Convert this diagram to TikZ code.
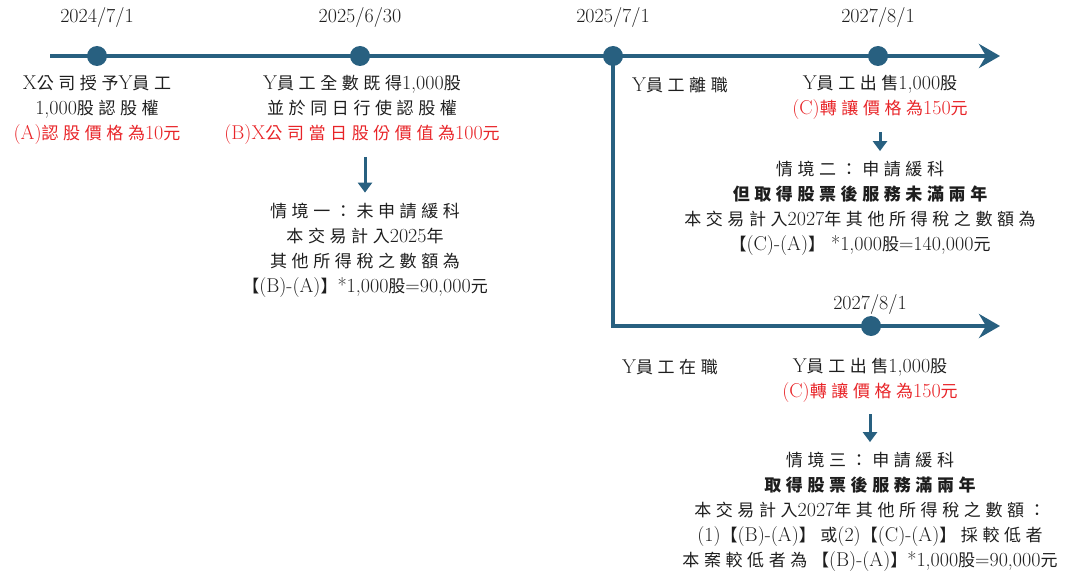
\documentclass[tikz,border=0pt]{standalone}
\usepackage{fontspec}
\usetikzlibrary{arrows.meta}
\newfontfamily\cjkf[LetterSpace=27, Scale=0.85]{Noto Sans CJK TC}
\newcommand\zh[1]{{\cjkf #1}}
\definecolor{tlblue}{RGB}{40,96,128}
\definecolor{tred}{RGB}{232,36,40}
\definecolor{ink}{RGB}{30,30,30}
\tikzset{
  tl/.style={line width=4pt, draw=tlblue},
  tlarrow/.style={tl, -{Stealth[length=21pt,width=24pt,inset=7pt]}},
  dot/.style={circle, fill=tlblue, minimum size=20pt, inner sep=0pt},
  txt/.style={align=center, text=ink, inner sep=2pt, font=\fontsize{20}{25}\selectfont},
  down/.style={line width=3pt, draw=tlblue, -{Triangle[length=10pt,width=14pt]}, shorten <=10pt, shorten >=8pt},
}
\begin{document}
\begin{tikzpicture}[x=1pt,y=-1pt]
\useasboundingbox (0,0) rectangle (1073,575);
% main timeline
\coordinate (s0) at (50,56);
\coordinate (e1) at (1000,56);
\draw[tlarrow] (s0) -- (e1);
\node[dot] (d1) at (97,56) {};
\node[dot] (d2) at (360,56) {};
\node[dot] (d4) at (878,56) {};
% branch
\coordinate (e2) at (1000,326);
\coordinate (br) at (613,56);
\draw[tlarrow] (br) |- (e2);
\node[dot] (d3) at (613,56) {};
\node[dot] (d5) at (871,326) {};
% dates
\node[txt] (t1) at (97,18) {2024/7/1};
\node[txt] (t2) at (360,18) {2025/6/30};
\node[txt] (t3) at (613,18) {2025/7/1};
\node[txt] (t4) at (878,18) {2027/8/1};
\node[txt] (t5) at (870,304) {2027/8/1};
% blocks
\node[txt] (b1) at (97,110) {X\zh{公司授予}Y\zh{員工}\\1,000\zh{股認股權}\\\color{tred}(A)\zh{認股價格為}10\zh{元}};
\node[txt] (b2) at (362,110) {Y\zh{員工全數既得}1,000\zh{股}\\\zh{並於同日行使認股權}\\\color{tred}(B)X\zh{公司當日股份價值為}100\zh{元}};
\node[txt] (s1) at (365,250) {\zh{情境一：未申請緩科}\\\zh{本交易計入}2025\zh{年}\\\zh{其他所得稅之數額為}\\\zh{【}(B)-(A)\zh{】}*1,000\zh{股}=90,000\zh{元}};
\node[txt] (leave) at (680,85) {Y\zh{員工離職}};
\node[txt] (sell1) at (880,97.5) {Y\zh{員工出售}1,000\zh{股}\\\color{tred}(C)\zh{轉讓價格為}150\zh{元}};
\node[txt] (s2) at (860,208.5) {\zh{情境二：申請緩科}\\{\cjkf\bfseries 但取得股票後服務未滿兩年}\\\zh{本交易計入}2027\zh{年其他所得稅之數額為}\\\zh{【}(C)-(A)\zh{】} *1,000\zh{股}=140,000\zh{元}};
\node[txt] (onjob) at (670,367) {Y\zh{員工在職}};
\node[txt] (sell2) at (870,380) {Y\zh{員工出售}1,000\zh{股}\\\color{tred}(C)\zh{轉讓價格為}150\zh{元}};
\node[txt] (s3) at (870,512) {\zh{情境三：申請緩科}\\{\cjkf\bfseries 取得股票後服務滿兩年}\\\zh{本交易計入}2027\zh{年其他所得稅之數額：}\\(1)\zh{【}(B)-(A)\zh{】或}(2)\zh{【}(C)-(A)\zh{】採較低者}\\\zh{本案較低者為【}(B)-(A)\zh{】}*1,000\zh{股}=90,000\zh{元}};
% small arrows
\draw[down] (s1.north |- b2.south) -- (s1.north);
\draw[down] (sell1.south) -- (sell1.south |- s2.north);
\draw[down] (sell2.south) -- (sell2.south |- s3.north);
\end{tikzpicture}
\end{document}
